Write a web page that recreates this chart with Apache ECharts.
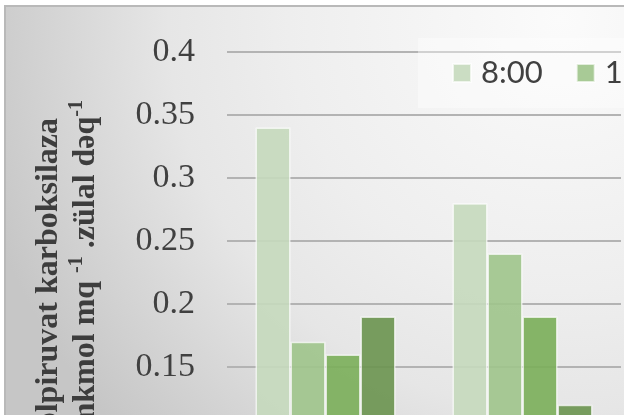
<!DOCTYPE html>
<html>
<head>
<meta charset="utf-8">
<script src="https://cdn.jsdelivr.net/npm/echarts@6/dist/echarts.min.js"></script>
<style>
  html, body { margin: 0; padding: 0; background: #ffffff; }
  #chart { width: 624px; height: 415px; }
</style>
</head>
<body>
<div id="chart"></div>
<script>
// Measurement times (legend entries) and sample groups
const seriesNames = ['8:00', '12:00', '16:00', '20:00'];
const categories = ['I', 'II'];

// Enzyme activity per time of day, one value per group
const values0800 = [0.34, 0.28];
const values1200 = [0.17, 0.24];
const values1600 = [0.16, 0.19];
const values2000 = [0.19, 0.12];

// Value axis range and step
const yMin = 0;
const yMax = 0.4;
const yStep = 0.05;

// Axis title lines
const titleLine1 = 'Fosfoenolpiruvat karboksilaza';
const titleLine2Parts = ['mkmol mq ', '-1', ' .zülal dəq', '-1'];

const seriesColors = ['#c5d9bd', '#9ec48b', '#7aae59', '#6a944f'];
const seriesValues = [values0800, values1200, values1600, values2000];

const chart = echarts.init(document.getElementById('chart'), null, { renderer: 'canvas' });

const titleRich = {
  t: { fontFamily: 'Liberation Serif', fontWeight: 'bold', fontSize: 32, lineHeight: 37, fill: '#3d3d3d' },
  s: { fontFamily: 'Liberation Serif', fontWeight: 'bold', fontSize: 20, lineHeight: 23, fill: '#3d3d3d', verticalAlign: 'top' }
};
const line2Text = titleLine2Parts.map((p, i) => (i % 2 === 0 ? '{t|' + p + '}' : '{s|' + p + '}')).join('');

const option = {
  animation: false,
  backgroundColor: 'transparent',
  graphic: [
    {
      type: 'rect',
      z: -100,
      silent: true,
      shape: { x: 5, y: 6, width: 640, height: 420 },
      style: {
        fill: {
          type: 'radial', x: 0.867, y: 0.033, r: 1.43,
          colorStops: [
            { offset: 0, color: '#fbfbfb' },
            { offset: 0.45, color: '#eeeeee' },
            { offset: 0.65, color: '#e6e6e6' },
            { offset: 1, color: '#c6c6c6' }
          ]
        },
        stroke: '#b9b9b9',
        lineWidth: 2
      }
    },
    {
      type: 'text',
      x: 67, y: 118,
      rotation: Math.PI / 2,
      z: 50,
      silent: true,
      style: {
        text: '{t|' + titleLine1 + '}',
        rich: titleRich,
        align: 'right', verticalAlign: 'bottom',
        textAlign: 'right', textVerticalAlign: 'bottom'
      }
    },
    {
      type: 'text',
      x: 104, y: 100,
      rotation: Math.PI / 2,
      z: 50,
      silent: true,
      style: {
        text: line2Text,
        rich: titleRich,
        align: 'right', verticalAlign: 'bottom',
        textAlign: 'right', textVerticalAlign: 'bottom'
      }
    }
  ],
  legend: {
    data: seriesNames,
    left: 418,
    top: 38,
    width: 900,
    orient: 'horizontal',
    padding: [19, 10, 19, 34],
    backgroundColor: 'rgba(255,255,255,0.4)',
    itemWidth: 18,
    itemHeight: 18,
    itemGap: 33,
    icon: 'rect',
    textStyle: {
      fontFamily: 'Lato',
      fontSize: 31,
      lineHeight: 32,
      color: '#404040',
      padding: [0, 0, 0, 5]
    }
  },
  grid: {
    left: 227,
    top: 52,
    width: 394,
    height: 504,
    containLabel: false,
    outerBoundsMode: 'none'
  },
  xAxis: {
    type: 'category',
    data: categories,
    axisLine: { show: false },
    axisTick: { show: false },
    axisLabel: { show: false }
  },
  yAxis: {
    type: 'value',
    min: yMin,
    max: yMax,
    interval: yStep,
    axisLine: { show: false },
    axisTick: { show: false },
    axisLabel: {
      margin: 32,
      fontFamily: 'Liberation Serif',
      fontSize: 34,
      color: '#404040'
    },
    splitLine: { lineStyle: { color: '#b3b3b3', width: 2 } }
  },
  series: seriesNames.map((name, i) => ({
    name: name,
    type: 'bar',
    data: seriesValues[i],
    barWidth: 35,
    barGap: '0%',
    itemStyle: {
      color: seriesColors[i],
      opacity: 0.9,
      borderColor: 'rgba(255,255,255,0.75)',
      borderWidth: 1.5
    }
  }))
};

chart.setOption(option);
</script>
</body>
</html>
